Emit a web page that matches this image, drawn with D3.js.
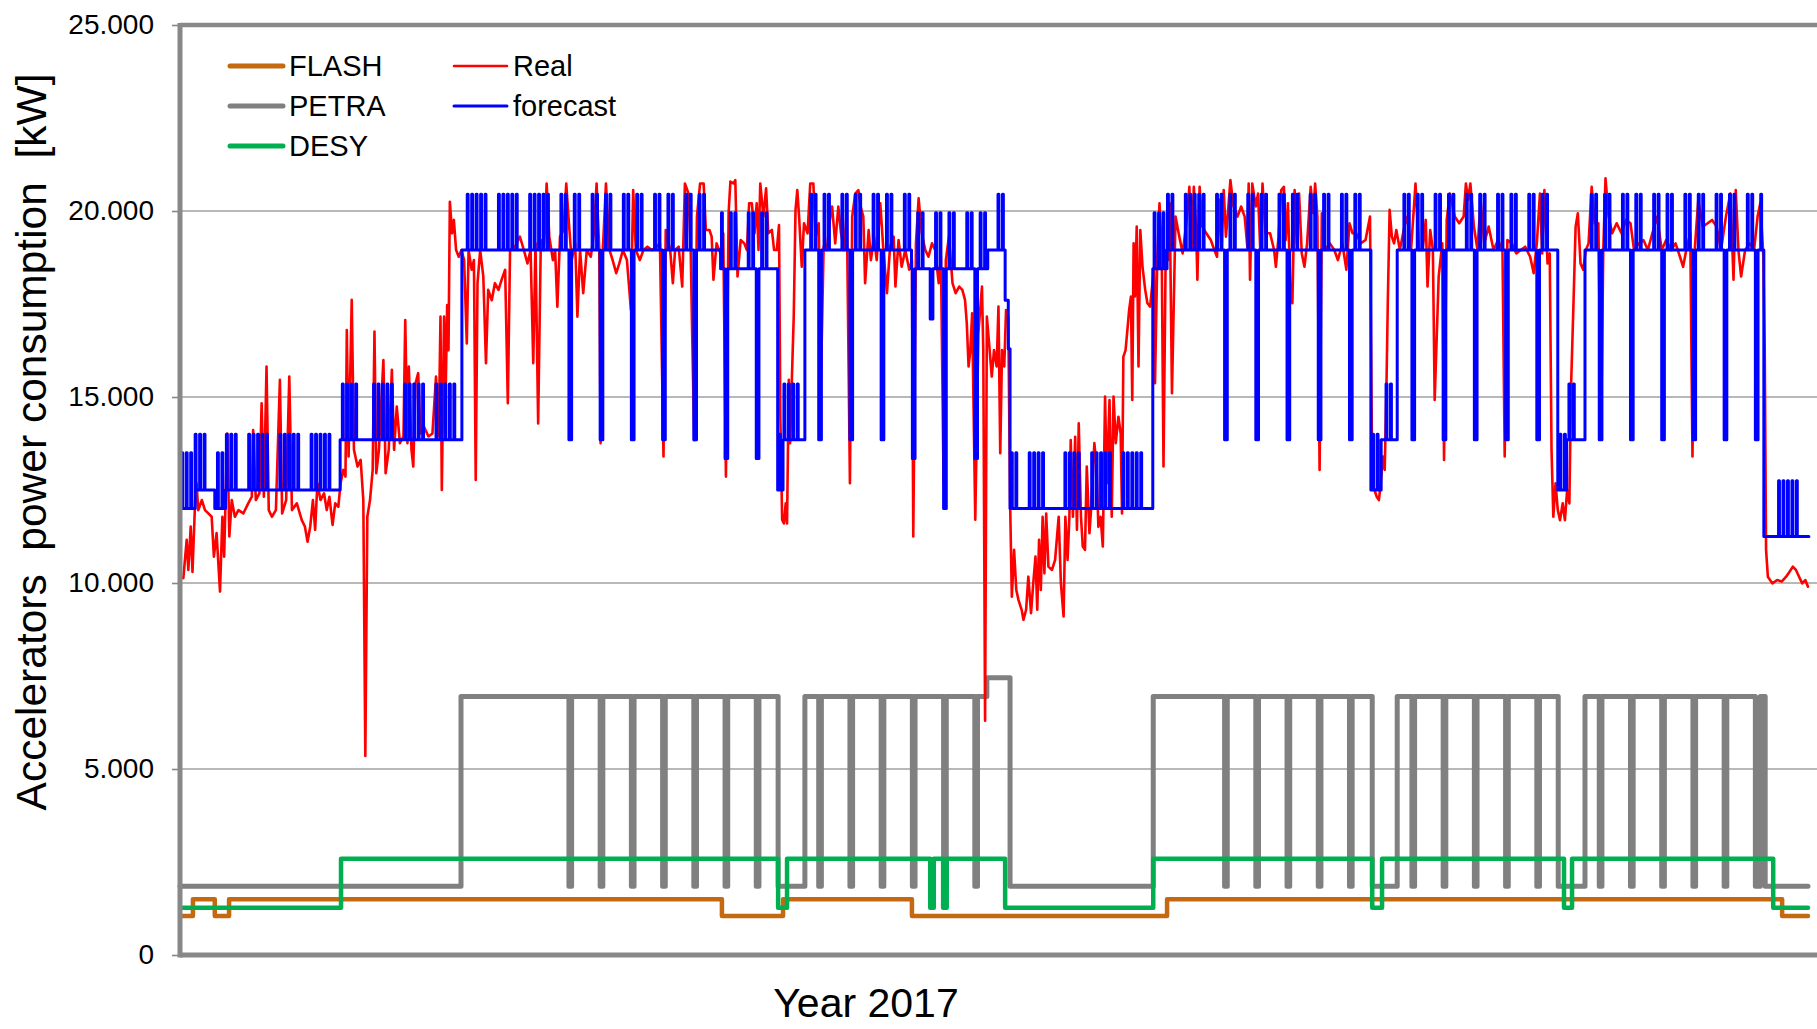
<!DOCTYPE html>
<html>
<head>
<meta charset="utf-8">
<script src="https://cdn.jsdelivr.net/npm/d3@7"></script>
<style>
  html, body { margin: 0; padding: 0; background: #ffffff; }
  svg { display: block; font-family: "Liberation Sans", Arial, sans-serif; }
</style>
</head>
<body>
<svg id="chart" width="1817" height="1029"></svg>
<script>
// ---------------- DATA (day of year 2017, kW) ----------------
const yTickValues = [0, 5000, 10000, 15000, 20000, 25000];
const yTickLabels = ["0", "5.000", "10.000", "15.000", "20.000", "25.000"];
const seriesNames = ["FLASH", "PETRA", "DESY", "Real", "forecast"];
const yAxisTitle = "Accelerators  power consumption  [kW]";
const xAxisTitle = "Year 2017";

// FLASH step levels [day, kW]
const flashSteps = [[0,1050],[2.9,1500],[7.8,1050],[11.0,1500],[121.5,1050],[135.2,1500],[164.1,1050],[221.3,1500],[359.2,1050],[365,1050]];

// PETRA step levels and weekly maintenance dips
const petraSteps = [[0,1850],[63.0,6950],[134.1,1850],[140.1,6950],[180.9,7450],[186.1,1850],[218.2,6950],[267.3,1850],[272.9,6950],[309.0,1850],[315.0,6950],[355.4,1850],[365,1850]];
const petraDipLevel = 1850;
const petraDips = [[87.2,87.8],[94.2,94.8],[101.2,101.8],[108.2,108.8],[115.2,115.8],[122.2,122.8],[129.2,129.8],[143.2,143.8],[150.2,150.8],[157.2,157.8],[164.2,164.8],[171.2,171.8],[178.2,178.8],[234.2,234.8],[241.2,241.8],[248.2,248.8],[255.2,255.8],[262.2,262.8],[276.2,276.8],[283.2,283.8],[290.2,290.8],[297.2,297.8],[304.2,304.8],[318.2,318.8],[325.2,325.8],[332.2,332.8],[339.2,339.8],[346.2,346.8],[353.2,354.3]];

// DESY step levels
const desySteps = [[0,1270],[36.1,2590],[134.1,1270],[136.1,2590],[168.2,1270],[169.0,2590],[171.1,1270],[171.9,2590],[185.0,1270],[218.2,2590],[267.3,1270],[269.5,2590],[310.3,1270],[312.1,2590],[357.2,1270],[365,1270]];

// forecast: base levels, daily pulses (+1500 kW) and maintenance dips
const forecastBase = [[0,12000],[3.4,12500],[7.8,12000],[10.2,12500],[35.9,13850],[63.2,18950],[121.2,18450],[134.0,12500],[135.2,13850],[140.1,18950],[164.0,18450],[181.1,18950],[185.0,17600],[185.7,16300],[186.1,12000],[218.1,18450],[221.3,18950],[267.0,12500],[269.3,13850],[272.9,18950],[308.9,12500],[310.9,13850],[315.0,18950],[355.1,11250],[365.2,11250]];
const forecastPulseHeight = 1500;
const forecastPulseDays = [0,1,2,3,4,5,8,9,10,11,12,15,16,17,18,19,22,23,24,25,26,29,30,31,32,33,36,37,38,39,43,44,45,46,47,50,51,52,53,54,57,58,59,60,61,
  64,65,66,67,68,71,72,73,74,75,78,79,80,81,82,85,86,88,89,92,93,95,96,99,100,102,103,106,107,109,110,113,114,116,117,121,123,124,127,128,130,131,
  134,135,136,137,138,141,142,144,145,148,149,151,152,155,156,158,159,162,163,165,166,169,170,172,173,176,177,179,180,183,184,186,187,190,191,192,193,
  198,199,200,201,204,205,206,207,208,211,212,213,214,215,218,219,220,221,222,225,226,227,228,229,232,233,235,236,239,240,242,243,246,247,249,250,
  253,254,256,257,260,261,263,264,267,268,270,271,274,275,277,278,281,282,284,285,288,289,291,292,295,296,298,299,302,303,305,306,309,310,311,312,
  316,317,319,320,323,324,326,327,330,331,333,334,337,338,340,341,344,345,347,348,351,352,354,358,359,360,361,362];
const forecastDips = [[87.2,87.8,13850],[94.2,94.8,13850],[101.2,101.8,13850],[108.2,108.8,13850],[115.2,115.8,13850],[122.2,122.8,13350],[129.2,129.8,13350],
  [143.2,143.8,13850],[150.2,150.8,13850],[157.2,157.8,13850],[164.2,164.8,13350],[168.2,168.8,17100],[171.2,171.8,12000],[178.2,178.8,13350],
  [234.2,234.8,13850],[241.2,241.8,13850],[248.2,248.8,13850],[255.2,255.8,13850],[262.2,262.8,13850],[276.2,276.8,13850],[283.2,283.8,13850],
  [290.2,290.8,13850],[297.2,297.8,13850],[304.2,304.8,13850],[318.2,318.8,13850],[325.2,325.8,13850],[332.2,332.8,13850],[339.2,339.8,13850],
  [346.2,346.8,13850],[353.2,353.8,13850]];

// Real measured consumption [day, kW]
const realData = [
[0.0,10170],[0.75,10130],[1.5,11160],[1.87,10350],[2.4,11520],[2.8,10300],[3.4,12230],[3.7,12680],[4.1,11960],[4.9,12230],[5.6,11960],[6.35,11870],[7.1,11780],[7.6,10710],[8.2,11340],[8.97,9770],[9.5,11780],[9.9,10710],[10.3,12680],[10.6,14020],[11.06,11250],[11.6,12230],[12.3,11780],[13.1,11960],[14.2,11870],[15.3,12140],[16.1,12320],[16.4,14110],[17.0,12230],[17.8,12410],[18.3,14830],[18.8,12320],[19.4,15820],[19.9,11960],[20.6,11780],[21.5,11960],[22.4,15460],[22.9,11870],[23.8,12230],[24.5,15550],[25.1,11960],[26.2,12140],[27.3,11690],[28.0,11520],[28.6,11110],[29.2,11520],[29.8,12230],[30.3,11430],[30.8,12680],[31.5,12230],[32.3,12410],[32.9,11960],[33.5,12320],[34.2,11560],[34.8,12140],[35.5,12050],
[36.0,12680],[36.6,13040],[37.1,12860],[37.4,16800],[37.8,13400],[38.5,17610],[39.0,13580],[39.8,13130],[40.5,13310],[41.1,12230],[41.55,5350],[42.0,11780],[42.6,12230],[43.2,13040],[43.6,16760],[44.0,12950],[44.6,13580],[45.6,15990],[46.1,12950],[46.8,13580],[47.5,15730],[48.0,13580],[48.6,14740],[49.3,13760],[50.1,13940],[50.5,17070],[51.0,13760],[51.3,15820],[51.9,13580],[52.3,13130],[52.8,15370],[53.4,15640],[53.9,14020],[54.7,14200],[55.7,13940],[56.6,14020],[57.4,15550],[58.0,13940],[58.4,17160],[58.7,12500],[59.2,17160],[59.6,15370],[59.9,17470],[60.2,16260],[60.5,20250],[61.0,19400],[61.4,19760],[61.9,18950],[62.5,18770],[63.1,18950],
[63.7,18680],[64.3,16440],[64.7,18950],[65.4,18420],[65.9,18680],[66.3,12770],[66.7,18060],[67.3,18950],[68.0,18240],[68.6,15910],[69.1,17880],[69.9,17600],[70.6,18060],[71.4,17880],[72.1,18150],[72.9,18420],[73.5,14830],[74.0,18950],[75.1,19040],[76.2,19310],[77.1,18950],[77.9,18590],[78.6,18950],[79.2,15910],[79.7,19130],[80.3,14290],[80.9,19220],[81.6,18950],[82.2,20740],[82.8,19310],[83.6,18680],[84.1,18950],[84.6,17430],[85.2,19310],[86.0,19490],[86.6,20740],[87.2,19670],[87.8,18680],[88.6,19130],[89.1,17160],[89.7,18950],[90.4,17790],[91.2,18950],[92.1,18770],[92.8,19400],[93.4,20740],[94.0,18950],[94.3,13760],[94.8,18950],[95.5,20740],[96.3,18950],[97.0,18680],[97.8,18330],[98.5,18590],[99.3,18950],[100.2,18680],[101.1,17340],[101.6,20560],[102.2,18950],[103.1,18680],[103.9,18950],[104.8,19040],[105.8,18950],[106.9,19040],[107.6,19130],[108.4,13400],[108.9,19490],
[109.9,18950],[110.5,18060],[111.0,18950],[111.8,19040],[112.6,17970],[113.2,20740],[114.0,20470],[114.5,18950],[114.8,16890],[115.3,13840],[115.9,19850],[116.6,20740],[117.4,20740],[117.9,19490],[118.7,19490],[119.2,19310],[119.6,18150],[120.3,19130],[121.2,18860],[121.8,19400],[122.4,12860],[123.0,19940],[123.4,20790],[124.1,20740],[124.5,20830],[125.0,18240],[125.7,19220],[126.5,19130],[127.1,18950],[127.6,20210],[128.2,20210],[128.8,19400],[129.3,20210],[129.7,18950],[130.1,20740],[130.8,19850],[131.4,20610],[131.9,19400],[132.7,19490],[133.2,18950],[133.8,18950],[134.3,19620],[134.6,14470],[135.0,11700],[135.4,11600],[135.8,12140],[136.1,11600],[136.5,15460],[136.8,13760],[137.2,15550],[137.6,17160],[138.0,20030],[138.4,20560],[138.8,19850],[139.4,18500],[139.9,19670],
[140.7,19400],[141.3,20740],[142.0,20740],[142.5,19310],[143.2,19670],[143.7,15460],[144.3,19040],[145.0,18950],[145.8,19850],[146.2,20120],[146.9,19130],[147.6,20120],[148.2,19400],[148.9,18950],[149.5,20030],[150.2,12680],[150.7,19850],[151.4,20470],[152.1,20560],[152.6,20120],[153.2,19850],[153.6,18060],[154.4,19490],[154.9,18680],[155.6,19310],[156.2,18680],[157.0,20210],[157.7,18950],[158.5,17790],[159.2,19040],[160.0,19310],[160.4,17970],[161.1,19220],[161.8,18500],[162.6,18950],[163.5,18420],[164.1,18680],[164.4,11250],[165.0,19130],[165.6,20340],[166.3,19400],[167.1,18950],[167.8,18770],[168.6,19130],[169.3,18950],[170.1,18060],[170.6,18770],[171.2,12680],[171.7,18680],[172.4,19310],[173.2,18060],[173.9,17790],[174.7,17970],[175.4,17880],[176.0,17610],[176.4,16980],[176.8,15820],[177.2,16260],[177.6,17250],[178.3,11700],[179.0,16710],[179.8,17970],[180.1,16260],[180.5,6300],[180.9,17160],[181.4,16440],[182.0,15550],[182.5,16260],[183.1,15820],[183.5,17430],[183.9,13490],[184.3,16260],[184.8,15820],[185.2,17340],[185.7,17160],
[186.1,12230],[186.5,9630],[187.0,10890],[187.5,9810],[188.0,9540],[188.7,9280],[189.1,9010],[189.7,9280],[190.2,10170],[190.8,9190],[191.3,9990],[191.8,10710],[192.2,9280],[192.6,11160],[193.0,9810],[193.4,11780],[193.8,10260],[194.2,11870],[194.7,10440],[195.5,10350],[196.2,10620],[197.0,11780],[197.5,9990],[198.1,9100],[198.5,11780],[199.0,10620],[199.4,11780],[199.7,13840],[200.2,11780],[200.7,13930],[201.1,11430],[201.5,14290],[202.0,11780],[202.4,10980],[202.9,10890],[203.3,13130],[203.9,11340],[204.4,12230],[205.0,13760],[205.5,13130],[205.9,11510],[206.4,11780],[206.9,10980],[207.4,15010],[207.8,12680],[208.4,14920],[208.9,11780],[209.3,15010],[209.8,13760],[210.4,14470],[210.9,14020],[211.2,11870],[211.5,16080],[212.0,16260],[212.4,16800],[212.8,17340],[213.2,17700],[213.5,14920],[213.8,19130],[214.1,17700],[214.5,19580],[214.9,15820],[215.3,19490],[215.8,18500],[216.4,17880],[216.9,17520],[217.5,17430],
[218.4,18500],[218.6,15370],[219.1,18680],[219.6,20210],[220.1,18950],[220.5,13130],[221.0,18950],[221.5,18680],[221.9,20210],[222.4,15100],[223.2,19850],[223.9,19400],[224.8,18860],[225.8,19850],[226.3,20650],[226.8,18950],[227.3,20650],[227.8,19580],[228.1,18150],[228.6,20650],[229.2,19580],[230.1,19400],[231.1,19220],[231.9,18950],[232.5,18770],[233.0,20300],[233.5,18950],[234.0,20560],[234.5,19310],[235.0,20030],[235.5,20830],[236.2,20120],[237.1,19850],[237.9,20120],[238.7,19850],[239.3,19040],[239.6,20740],[239.9,18150],[240.4,20740],[241.2,20120],[241.7,20470],[242.2,18950],[242.7,20740],[243.4,19400],[244.4,19400],[245.3,18950],[245.7,18500],[246.3,19310],[246.9,20560],[247.5,20650],[247.9,19220],[248.4,20210],[248.9,18060],[249.4,17520],[249.9,20560],[250.4,19130],[250.9,20470],[251.5,18860],[252.1,18500],[252.7,19130],[253.5,20650],[254.1,19940],[254.5,20740],[255.0,19850],[255.5,13040],[256.0,19940],[256.7,18950],[257.8,19130],[258.8,18950],[259.6,18680],[260.6,19130],[261.5,18420],[262.2,19670],[262.9,19400],[263.7,19400],[264.7,19130],[265.8,19220],[266.8,19850],
[267.3,12680],[267.8,12500],[268.3,12320],[268.8,12230],[269.2,12680],[269.7,13400],[270.1,13040],[270.5,15370],[270.8,17610],[271.2,20030],[271.7,19310],[272.2,19130],[272.7,19490],[273.5,18950],[274.5,19580],[275.2,19850],[276.0,18950],[277.0,20740],[277.8,18950],[278.6,18950],[279.3,19760],[279.7,17970],[280.3,19490],[280.9,18950],[281.3,14920],[282.2,18240],[283.0,19130],[283.4,13310],[284.0,19760],[284.7,20470],[285.8,19850],[286.8,19670],[287.8,19850],[288.3,20740],[288.8,20300],[289.3,20740],[290.1,19580],[290.9,18950],[291.6,20300],[292.4,19130],[293.4,19580],[294.5,18950],[295.5,19220],[296.5,18950],[297.0,13400],[297.6,19220],[298.6,19130],[299.6,18860],[300.6,18950],[301.6,19040],[302.7,18770],[303.5,18330],[304.2,19130],[304.9,20470],[305.4,18860],[305.9,20560],[306.6,18590],[307.1,18860],
[307.5,13580],[307.9,11780],[308.4,12680],[308.9,11960],[309.4,11690],[310.0,12140],[310.5,11690],[311.0,12500],[311.5,12140],[311.9,15370],[312.4,17430],[312.9,19580],[313.4,19940],[314.0,18590],[314.6,18420],[315.2,18950],[315.8,19130],[316.5,20650],[317.2,19670],[318.0,19670],[318.6,13940],[319.1,18950],[319.6,20880],[320.3,19850],[321.1,19400],[322.1,19670],[323.2,19400],[324.2,19760],[325.2,19670],[326.0,18950],[327.1,19130],[328.1,19220],[329.1,18950],[330.1,19400],[331.2,19850],[332.2,18950],[333.2,19220],[334.3,18950],[335.3,19130],[336.3,18770],[337.0,18500],[337.7,18950],[338.6,19400],[339.1,13400],[339.6,18950],[340.4,20300],[341.4,19580],[342.5,19670],[343.5,19760],[344.5,19580],[345.5,18950],[346.6,19850],[347.6,20470],[348.3,18150],[348.8,20560],[349.4,18950],[350.0,18240],[350.9,18950],[351.9,19130],[352.9,18950],[353.7,19850],[354.3,20210],[355.0,18770],[355.3,16260],[355.6,10890],[356.0,10170],[357.0,9990],[358.1,10080],[359.1,10040],[360.1,10170],[360.9,10310],[361.6,10440],[362.3,10350],[363.0,10170],[363.7,9990],[364.4,10080],[365.0,9900]
];

// ---------------- BUILD STEP SERIES ----------------
function levelAt(steps, t) {
  let v = steps[0][1];
  for (const [s, val] of steps) { if (s <= t) v = val; else break; }
  return v;
}
// overlays: [start, end, value]
function buildStep(steps, overlays) {
  const times = new Set(steps.map(d => d[0]));
  overlays.forEach(o => { times.add(o[0]); times.add(o[1]); });
  const ts = Array.from(times).sort((a, b) => a - b);
  return ts.map(t => {
    const o = overlays.find(o => t >= o[0] && t < o[1]);
    return [t, o ? o[2] : levelAt(steps, t)];
  });
}
const flashSeries = buildStep(flashSteps, []);
const petraSeries = buildStep(petraSteps, petraDips.map(d => [d[0], d[1], petraDipLevel]));
const desySeries = buildStep(desySteps, []);
const forecastOverlays = forecastPulseDays.map(d => [d + 0.4, d + 0.6, levelAt(forecastBase, d + 0.5) + forecastPulseHeight])
  .concat(forecastDips.map(d => [d[0], d[1], d[2]]));
const forecastSeries = buildStep(forecastBase, forecastOverlays);

// ---------------- DRAW ----------------
const W = 1817, H = 1029;
const plotLeft = 180, plotRight = 1817, plotTop = 25, plotBottom = 955;
const svg = d3.select("#chart");
svg.append("rect").attr("width", W).attr("height", H).attr("fill", "#ffffff");

const x = d3.scaleLinear().domain([0, 365]).range([plotLeft, 1808]);
const y = d3.scaleLinear().domain([0, 25000]).range([plotBottom, plotTop]);

// gridlines
svg.append("g").selectAll("line").data(yTickValues.slice(1, -1)).join("line")
  .attr("x1", plotLeft).attr("x2", plotRight)
  .attr("y1", d => y(d)).attr("y2", d => y(d))
  .attr("stroke", "#a0a0a0").attr("stroke-width", 1.6);

// y axis ticks + labels
const yAxis = d3.axisLeft(y).tickValues(yTickValues)
  .tickFormat((d, i) => yTickLabels[i]).tickSize(8).tickPadding(18);
const gy = svg.append("g").attr("transform", `translate(${plotLeft},0)`).call(yAxis);
gy.select(".domain").remove();
gy.selectAll(".tick line").attr("stroke", "#888888").attr("stroke-width", 1.6);
gy.selectAll(".tick text").attr("font-size", 28).attr("fill", "#000")
  .attr("font-family", "'Liberation Sans', Arial, sans-serif");

// series lines
const line = d3.line().x(d => x(d[0])).y(d => y(d[1])).curve(d3.curveStepAfter);
const rline = d3.line().x(d => x(d[0])).y(d => y(d[1]));
const g = svg.append("g").attr("fill", "none").attr("stroke-linejoin", "round").attr("stroke-linecap", "round");
g.append("path").datum(flashSeries).attr("d", line).attr("stroke", "#c4690f").attr("stroke-width", 4.5);
g.append("path").datum(petraSeries).attr("d", line).attr("stroke", "#808080").attr("stroke-width", 5);
g.append("path").datum(desySeries).attr("d", line).attr("stroke", "#00b050").attr("stroke-width", 4.5);
g.append("path").datum(realData).attr("d", rline).attr("stroke", "#ff0000").attr("stroke-width", 2.6);
g.append("path").datum(forecastSeries).attr("d", line).attr("stroke", "#0000ff").attr("stroke-width", 3);

// axes frame
const axisColor = "#888888";
svg.append("line").attr("x1", plotLeft).attr("x2", plotRight).attr("y1", plotTop).attr("y2", plotTop)
  .attr("stroke", axisColor).attr("stroke-width", 4.5);
svg.append("line").attr("x1", plotLeft).attr("x2", plotRight).attr("y1", plotBottom).attr("y2", plotBottom)
  .attr("stroke", axisColor).attr("stroke-width", 5);
svg.append("line").attr("x1", plotLeft).attr("x2", plotLeft).attr("y1", plotTop - 2).attr("y2", plotBottom + 2.5)
  .attr("stroke", axisColor).attr("stroke-width", 5);

// legend
const legendColors = ["#c4690f", "#808080", "#00b050", "#ff0000", "#0000ff"];
const legendWidths = [5, 5, 5, 2.5, 3];
const legendPos = [[230, 66], [230, 106], [230, 146], [454, 66], [454, 106]];
const lg = svg.append("g");
seriesNames.forEach((name, i) => {
  const [lx, ly] = legendPos[i];
  lg.append("line").attr("x1", lx).attr("x2", lx + 53).attr("y1", ly).attr("y2", ly)
    .attr("stroke", legendColors[i]).attr("stroke-width", legendWidths[i]).attr("stroke-linecap", "round");
  lg.append("text").attr("x", lx + 59).attr("y", ly + 10).attr("font-size", 29).attr("fill", "#000").text(name);
});

// axis titles
svg.append("text").attr("transform", "translate(46,442) rotate(-90)")
  .attr("text-anchor", "middle").attr("font-size", 42.5).attr("fill", "#000")
  .attr("xml:space", "preserve").style("white-space", "pre").text(yAxisTitle);
svg.append("text").attr("x", 866).attr("y", 1017).attr("text-anchor", "middle")
  .attr("font-size", 41).attr("fill", "#000").text(xAxisTitle);
</script>
</body>
</html>
